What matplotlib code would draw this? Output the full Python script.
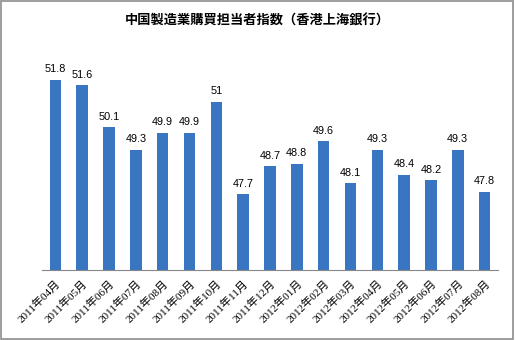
import matplotlib.pyplot as plt
from matplotlib.patches import Rectangle

months = ["2011年04月", "2011年05月", "2011年06月", "2011年07月", "2011年08月",
          "2011年09月", "2011年10月", "2011年11月", "2011年12月", "2012年01月",
          "2012年02月", "2012年03月", "2012年04月", "2012年05月", "2012年06月",
          "2012年07月", "2012年08月"]
pmi = [51.8, 51.6, 50.1, 49.3, 49.9, 49.9, 51.0, 47.7, 48.7, 48.8,
       49.6, 48.1, 49.3, 48.4, 48.2, 49.3, 47.8]
value_labels = ["51.8", "51.6", "50.1", "49.3", "49.9", "49.9", "51", "47.7", "48.7",
                "48.8", "49.6", "48.1", "49.3", "48.4", "48.2", "49.3", "47.8"]
title = "中国製造業購買担当者指数（香港上海銀行）"

fig = plt.figure(figsize=(5.15, 3.4), dpi=100)
fig.patches.append(Rectangle((0.002, 0.003), 0.995, 0.994, transform=fig.transFigure,
                             fill=False, edgecolor="#8c8c8c", linewidth=1.2))
ax = fig.add_axes([42 / 515, 1 - 270 / 340, 456 / 515, 210 / 340])

x = range(len(pmi))
ax.bar(x, [v - 45 for v in pmi], bottom=45, width=0.43, color="#3a75c2")
ax.set_xlim(-0.5, len(pmi) - 0.5)
ax.set_ylim(45, 52.5)

for i, v in enumerate(pmi):
    ax.text(i, v + 0.2, value_labels[i], ha="center", va="bottom", fontsize=7.8,
            family=["Liberation Sans", "DejaVu Sans"])

ax.set_xticks(list(x))
ax.set_xticklabels(months, rotation=45, ha="right", va="top", rotation_mode="anchor",
                   fontsize=8, family=["Liberation Serif", "Noto Sans CJK JP"])
ax.tick_params(axis="x", length=0, pad=6)
ax.set_yticks([])
for s in ["top", "right", "left"]:
    ax.spines[s].set_visible(False)
ax.spines["bottom"].set_color("#888888")

fig.text(0.5, 1 - 20 / 340, title, ha="center", va="center", fontsize=9.5,
         fontweight="bold", family=["Noto Sans CJK JP", "DejaVu Sans"])

fig.savefig("out.png", dpi=100)
